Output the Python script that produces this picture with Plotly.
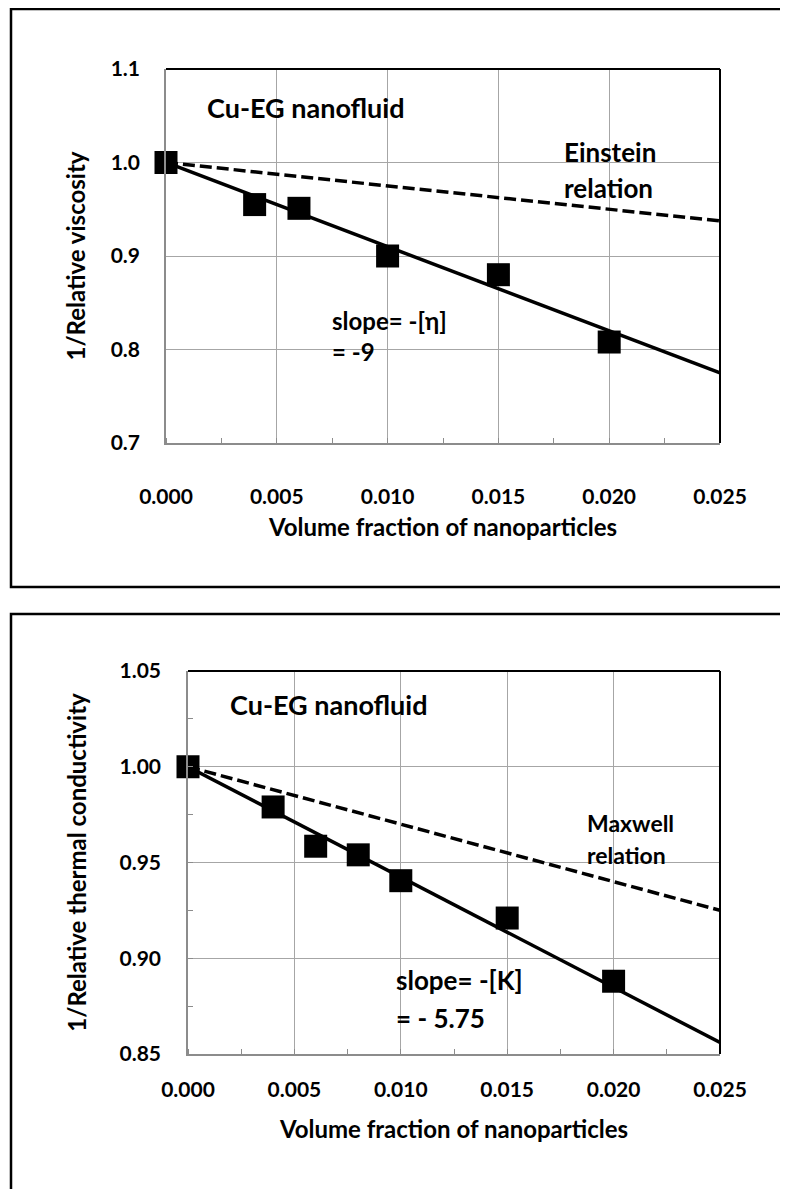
import plotly.graph_objects as go

W, H = 788, 1189
OFF = 8  # page body margin

# ---- data: top panel (viscosity)
phi_visc = [0.0, 0.004, 0.006, 0.010, 0.015, 0.020]
inv_visc = [1.0, 0.955, 0.951, 0.900, 0.880, 0.808]
fit_x = [0.0, 0.025]
visc_fit = [1.0, 0.775]          # slope -9
einstein = [1.0, 0.9375]         # Einstein relation

# ---- data: bottom panel (thermal conductivity)
phi_tc = [0.0, 0.004, 0.006, 0.008, 0.010, 0.015, 0.020]
inv_tc = [1.0, 0.979, 0.9585, 0.954, 0.9405, 0.921, 0.888]
tc_fit = [1.0, 0.856]            # slope -5.75
maxwell = [1.0, 0.925]           # Maxwell relation

x_ticks = [0.0, 0.005, 0.010, 0.015, 0.020, 0.025]
x_ticklabels = ["0.000", "0.005", "0.010", "0.015", "0.020", "0.025"]
y1_ticks = [0.7, 0.8, 0.9, 1.0, 1.1]
y1_ticklabels = ["0.7", "0.8", "0.9", "1.0", "1.1"]
y2_ticks = [0.85, 0.90, 0.95, 1.00, 1.05]
y2_ticklabels = ["0.85", "0.90", "0.95", "1.00", "1.05"]

FONT = "Lato"

def px_x(p):
    return (p - OFF) / W

def px_y(p):
    return 1 - (p - OFF) / H

fig = go.Figure()

DASH = "12px,5px"
# top panel traces
fig.add_trace(go.Scatter(x=fit_x, y=einstein, mode="lines",
                         line=dict(color="black", width=3.5, dash=DASH),
                         xaxis="x", yaxis="y", showlegend=False))
fig.add_trace(go.Scatter(x=fit_x, y=visc_fit, mode="lines",
                         line=dict(color="black", width=3.5),
                         xaxis="x", yaxis="y", showlegend=False))
fig.add_trace(go.Scatter(x=phi_visc, y=inv_visc, mode="markers",
                         marker=dict(symbol="square", size=23, color="black"),
                         cliponaxis=False, xaxis="x", yaxis="y", showlegend=False))

# bottom panel traces
fig.add_trace(go.Scatter(x=fit_x, y=maxwell, mode="lines",
                         line=dict(color="black", width=3.5, dash=DASH),
                         xaxis="x2", yaxis="y2", showlegend=False))
fig.add_trace(go.Scatter(x=fit_x, y=tc_fit, mode="lines",
                         line=dict(color="black", width=3.5),
                         xaxis="x2", yaxis="y2", showlegend=False))
fig.add_trace(go.Scatter(x=phi_tc, y=inv_tc, mode="markers",
                         marker=dict(symbol="square", size=23, color="black"),
                         cliponaxis=False, xaxis="x2", yaxis="y2", showlegend=False))

tickfont = dict(family=FONT, size=21, color="black", weight="bold")
titlefont = dict(family=FONT, size=24, color="black", weight="bold")

def xaxis_cfg(domain, anchor, standoff, title_standoff):
    return dict(domain=domain, anchor=anchor, automargin=False,
                range=[0, 0.025], tickvals=x_ticks, ticktext=x_ticklabels,
                showgrid=True, gridcolor="#A6A6A6", gridwidth=1,
                showline=True, linecolor="#8C8C8C", linewidth=1.5,
                ticks="", tickfont=tickfont, zeroline=False,
                ticklabelstandoff=standoff,
                minor=dict(dtick=0.0025, tick0=0, ticks="inside", ticklen=5,
                           tickcolor="#8C8C8C", tickwidth=1, showgrid=False),
                title=dict(text="Volume fraction of nanoparticles", font=titlefont,
                           standoff=title_standoff))

top_plot = (166, 720, 69, 443)
bot_plot = (188, 720, 671, 1054)

fig.update_layout(
    width=W, height=H,
    margin=dict(l=0, r=0, t=0, b=0, autoexpand=False),
    paper_bgcolor="white", plot_bgcolor="white",
    xaxis=xaxis_cfg([px_x(top_plot[0]), px_x(top_plot[1])], "y", 34, 12),
    yaxis=dict(domain=[px_y(top_plot[3]), px_y(top_plot[2])], anchor="x", automargin=False,
               range=[0.7, 1.1], tickvals=y1_ticks, ticktext=y1_ticklabels,
               showgrid=True, gridcolor="#A6A6A6", gridwidth=1,
               showline=True, linecolor="#8C8C8C", linewidth=1.5,
               ticks="", tickfont=tickfont, zeroline=False, ticklabelstandoff=20,
               title=dict(text="1/Relative viscosity", font=titlefont, standoff=18)),
    xaxis2=xaxis_cfg([px_x(bot_plot[0]), px_x(bot_plot[1])], "y2", 16, 21),
    yaxis2=dict(domain=[px_y(bot_plot[3]), px_y(bot_plot[2])], anchor="x2", automargin=False,
                range=[0.85, 1.05], tickvals=y2_ticks, ticktext=y2_ticklabels,
                showgrid=True, gridcolor="#A6A6A6", gridwidth=1,
                showline=True, linecolor="#8C8C8C", linewidth=1.5,
                ticks="", tickfont=tickfont, zeroline=False, ticklabelstandoff=21,
                minor=dict(dtick=0.025, tick0=0.85, ticks="inside", ticklen=5,
                           tickcolor="#8C8C8C", tickwidth=1, showgrid=False),
                title=dict(text="1/Relative thermal conductivity", font=titlefont, standoff=26)),
)

shapes = []
# outer frames
shapes.append(dict(type="rect", xref="paper", yref="paper",
                   x0=px_x(11), x1=px_x(800), y0=px_y(587), y1=px_y(9),
                   line=dict(color="black", width=2.5), fillcolor="rgba(0,0,0,0)"))
shapes.append(dict(type="rect", xref="paper", yref="paper",
                   x0=px_x(11), x1=px_x(800), y0=px_y(1210), y1=px_y(614),
                   line=dict(color="black", width=2.5), fillcolor="rgba(0,0,0,0)"))
# black top/right plot borders
for (l, r, t, b) in (top_plot, bot_plot):
    shapes.append(dict(type="line", xref="paper", yref="paper",
                       x0=px_x(l), x1=px_x(r), y0=px_y(t), y1=px_y(t),
                       line=dict(color="black", width=2)))
    shapes.append(dict(type="line", xref="paper", yref="paper",
                       x0=px_x(r), x1=px_x(r), y0=px_y(t), y1=px_y(b),
                       line=dict(color="black", width=2)))
fig.update_layout(shapes=shapes)

def ann(text, x, y, xref, yref, size, xanchor="left"):
    return dict(text=text, x=x, y=y, xref=xref, yref=yref, showarrow=False,
                xanchor=xanchor, yanchor="middle", align="left",
                font=dict(family=FONT, size=size, color="black", weight="bold"))

annotations = [
    ann("Cu-EG nanofluid", 0.00176, 1.0585, "x", "y", 27),
    ann("Einstein", 0.01787, 1.0114, "x", "y", 26),
    ann("relation", 0.01787, 0.973, "x", "y", 26),
    ann("slope= -[η]<br>= -9", 0.0074, 0.8147, "x", "y", 24),
    ann("Cu-EG nanofluid", 0.00188, 1.0323, "x2", "y2", 27),
    ann("Maxwell", 0.01866, 0.9705, "x2", "y2", 23),
    ann("relation", 0.01866, 0.9538, "x2", "y2", 23),
    ann("slope= -[K]", 0.00968, 0.8884, "x2", "y2", 26),
    ann("= - 5.75", 0.00968, 0.869, "x2", "y2", 26),
]
fig.update_layout(annotations=annotations)

fig.write_html("out.html")
